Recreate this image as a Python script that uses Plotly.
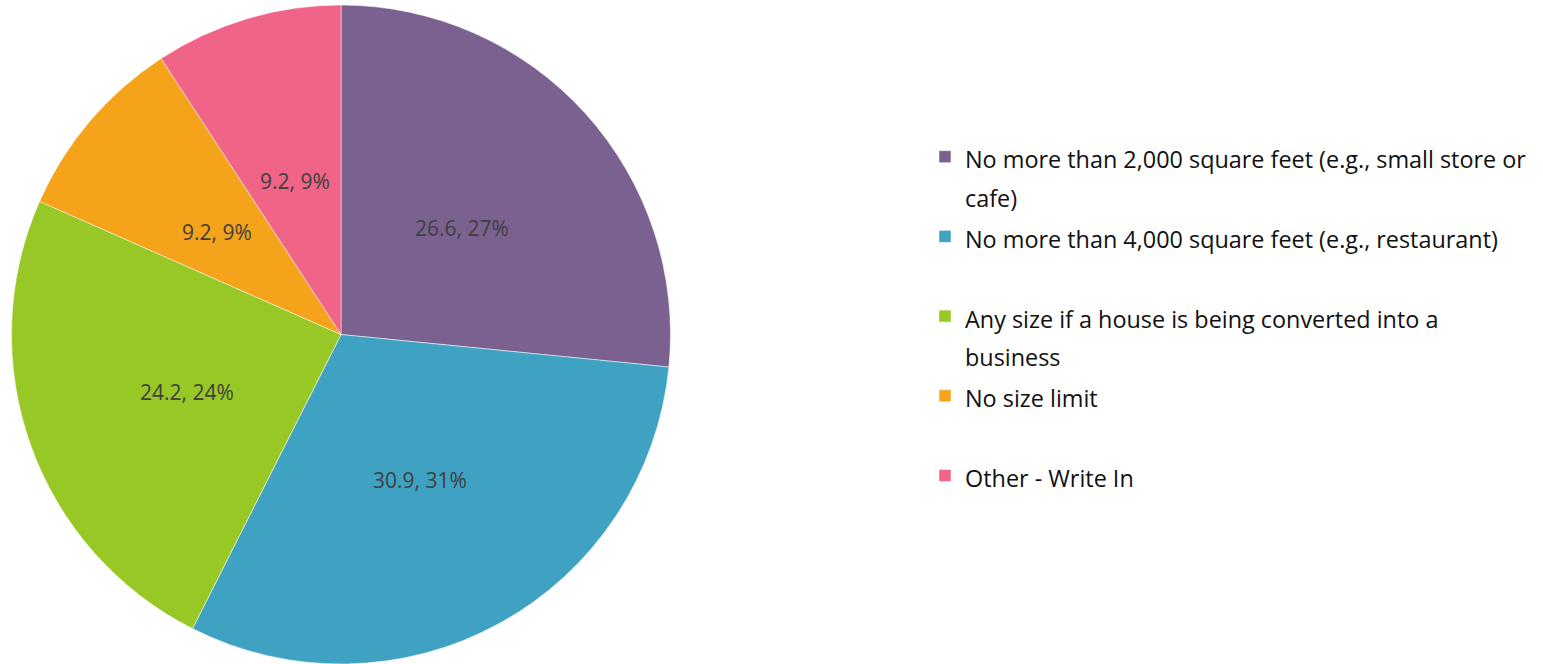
import math
import plotly.graph_objects as go

categories = [
    "No more than 2,000 square feet (e.g., small store or<br>cafe)",
    "No more than 4,000 square feet (e.g., restaurant)<br> ",
    "Any size if a house is being converted into a<br>business",
    "No size limit<br> ",
    "Other - Write In<br> ",
]
values = [26.6, 30.9, 24.2, 9.2, 9.2]
colors = ["#7B6190", "#3FA2C2", "#97C825", "#F5A31A", "#F06488"]

W, H = 1543, 664
MT = 5
X0, X1 = 11, 671  # pie domain in px

legend_names = ['<span style="font-size:23.4px">%s</span>' % c for c in categories]

fig = go.Figure(go.Pie(
    labels=legend_names,
    values=values,
    sort=False,
    direction="clockwise",
    rotation=0,
    marker=dict(colors=colors, line=dict(color="white", width=0.5)),
    textinfo="none",
    domain=dict(x=[X0 / W, X1 / W], y=[0, 1]),
    hoverinfo="value+percent",
))

# data labels placed at half radius along each slice's mid-angle (Excel style)
total = sum(values)
ph = H - MT
radius = min(X1 - X0, ph) / 2
cx = (X0 + X1) / 2
cy = MT + ph / 2
cum = 0.0
for v in values:
    mid = (cum + v / 2) / total * 2 * math.pi
    cum += v
    px = cx + 0.495 * radius * math.sin(mid)
    py = cy - 0.495 * radius * math.cos(mid)
    fig.add_annotation(
        x=px / W, y=(H - py) / ph, xref="paper", yref="paper",
        xanchor="center", yanchor="middle", yshift=-3,
        text="%s, %d%%" % (v, round(v / total * 100)),
        showarrow=False,
        font=dict(family="Open Sans", size=21, color="#404040"),
    )

fig.update_layout(
    width=W, height=H,
    margin=dict(l=0, r=0, t=MT, b=0),
    paper_bgcolor="white",
    plot_bgcolor="white",
    showlegend=True,
    legend=dict(
        x=925 / W, xanchor="left",
        y=(H - 131) / ph, yanchor="top",
        font=dict(family="Open Sans", size=29.5, color="#111111"),
        valign="top",
        bgcolor="rgba(0,0,0,0)",
    ),
    font=dict(family="Open Sans"),
)

fig.write_html("out.html", config={"displayModeBar": False},
               post_script="document.body.style.margin='0px';")
